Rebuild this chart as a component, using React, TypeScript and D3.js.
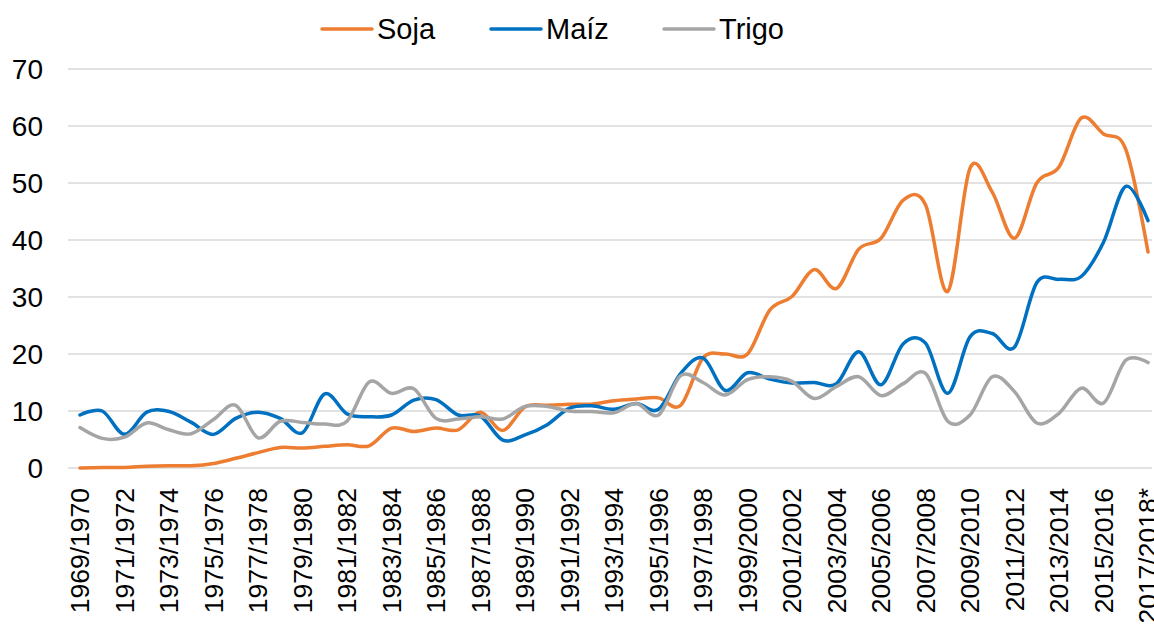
import { useEffect, useRef } from "react";
import * as d3 from "d3";

const seasons = [
  "1969/1970", "1970/1971", "1971/1972", "1972/1973", "1973/1974", "1974/1975",
  "1975/1976", "1976/1977", "1977/1978", "1978/1979", "1979/1980", "1980/1981",
  "1981/1982", "1982/1983", "1983/1984", "1984/1985", "1985/1986", "1986/1987",
  "1987/1988", "1988/1989", "1989/1990", "1990/1991", "1991/1992", "1992/1993",
  "1993/1994", "1994/1995", "1995/1996", "1996/1997", "1997/1998", "1998/1999",
  "1999/2000", "2000/2001", "2001/2002", "2002/2003", "2003/2004", "2004/2005",
  "2005/2006", "2006/2007", "2007/2008", "2008/2009", "2009/2010", "2010/2011",
  "2011/2012", "2012/2013", "2013/2014", "2014/2015", "2015/2016", "2016/2017",
  "2017/2018*",
];

const soja = [
  0, 0.1, 0.1, 0.3, 0.4, 0.4, 0.8, 1.7, 2.7, 3.6,
  3.5, 3.8, 4.1, 3.9, 7.0, 6.4, 7.0, 6.7, 9.8, 6.6,
  10.7, 11.0, 11.2, 11.2, 11.8, 12.1, 12.3, 11.0, 19.3, 20.0,
  20.0, 27.7, 30.1, 34.8, 31.5, 38.4, 40.3, 47.0, 46.2, 31.0,
  52.6, 48.4, 40.3, 50.0, 52.8, 61.4, 58.6, 55.9, 37.9,
];

const maiz = [
  9.3, 10.0, 5.9, 9.8, 9.9, 8.0, 5.9, 8.7, 9.8, 8.7,
  6.2, 13.0, 9.5, 9.0, 9.3, 11.9, 12.0, 9.3, 9.1, 4.9,
  5.8, 7.6, 10.5, 10.9, 10.3, 11.3, 10.3, 16.6, 19.3, 13.6,
  16.7, 15.6, 14.9, 15.0, 14.8, 20.4, 14.6, 21.8, 21.9, 13.1,
  23.0, 23.6, 21.2, 32.5, 33.1, 33.6, 39.6, 49.4, 43.4,
];

const trigo = [
  7.1, 5.2, 5.4, 7.9, 6.7, 6.0, 8.5, 11.0, 5.3, 8.2,
  8.0, 7.7, 8.2, 15.1, 13.1, 13.9, 8.7, 8.6, 9.0, 8.6,
  10.8, 10.8, 10.0, 9.9, 9.7, 11.3, 9.3, 16.2, 15.0, 12.8,
  15.5, 16.0, 15.2, 12.2, 14.3, 16.0, 12.7, 14.8, 16.6, 8.2,
  9.3, 16.0, 13.4, 7.9, 9.6, 14.0, 11.4, 18.9, 18.5,
];

const yTicks = [0, 10, 20, 30, 40, 50, 60, 70];

const series = [
  { name: "Soja", values: soja, color: "#ED7D31" },
  { name: "Maíz", values: maiz, color: "#0070C0" },
  { name: "Trigo", values: trigo, color: "#A5A5A5" },
];

const W = 1154;
const H = 624;
const FONT = "'Liberation Sans', Arial, sans-serif";

export default function App() {
  const svgRef = useRef<SVGSVGElement | null>(null);

  useEffect(() => {
    if (!svgRef.current) return;
    const svg = d3.select(svgRef.current);
    svg.selectAll("*").remove();

    const x = d3.scalePoint<string>().domain(seasons).range([80, 1148]);
    const y = d3.scaleLinear().domain([0, 70]).range([468, 69]);

    // gridlines
    svg
      .append("g")
      .selectAll("line")
      .data(yTicks)
      .enter()
      .append("line")
      .attr("x1", 68)
      .attr("x2", 1152)
      .attr("y1", d => y(d))
      .attr("y2", d => y(d))
      .attr("stroke", "#d9d9d9")
      .attr("stroke-width", 1.5);

    // y labels
    svg
      .append("g")
      .selectAll("text")
      .data(yTicks)
      .enter()
      .append("text")
      .attr("x", 43)
      .attr("y", d => y(d))
      .attr("dy", "0.35em")
      .attr("text-anchor", "end")
      .attr("font-family", FONT)
      .attr("font-size", 28)
      .attr("fill", "#000")
      .text(d => d);

    // x labels, every other season (the last one runs off the edge, as in the original)
    svg
      .append("g")
      .selectAll("text")
      .data(seasons.filter((_, i) => i % 2 === 0))
      .enter()
      .append("text")
      .attr("transform", d => `translate(${x(d)},488) rotate(-90)`)
      .attr("dy", "0.35em")
      .attr("text-anchor", "end")
      .attr("font-family", FONT)
      .attr("font-size", 26.5)
      .attr("fill", "#000")
      .text(d => d);

    const line = d3
      .line<number>()
      .x((_, i) => x(seasons[i]) as number)
      .y(d => y(d))
      .curve(d3.curveCardinal.tension(0));

    svg
      .append("g")
      .selectAll("path")
      .data(series)
      .enter()
      .append("path")
      .attr("d", d => line(d.values))
      .attr("fill", "none")
      .attr("stroke", d => d.color)
      .attr("stroke-width", 3.5)
      .attr("stroke-linecap", "round")
      .attr("stroke-linejoin", "round");

    // legend
    const legendX = [322, 491, 664];
    const lg = svg
      .append("g")
      .selectAll("g")
      .data(series)
      .enter()
      .append("g")
      .attr("transform", (_, i) => `translate(${legendX[i]},29)`);
    lg.append("line")
      .attr("x1", 0)
      .attr("x2", 50)
      .attr("stroke", d => d.color)
      .attr("stroke-width", 3.5)
      .attr("stroke-linecap", "round");
    lg.append("text")
      .attr("x", 55)
      .attr("dy", "0.35em")
      .attr("font-family", FONT)
      .attr("font-size", 29)
      .attr("fill", "#000")
      .text(d => d.name);
  }, []);

  return (
    <svg
      ref={svgRef}
      width={W}
      height={H}
      style={{ position: "absolute", left: 0, top: 0, background: "#fff" }}
    />
  );
}
